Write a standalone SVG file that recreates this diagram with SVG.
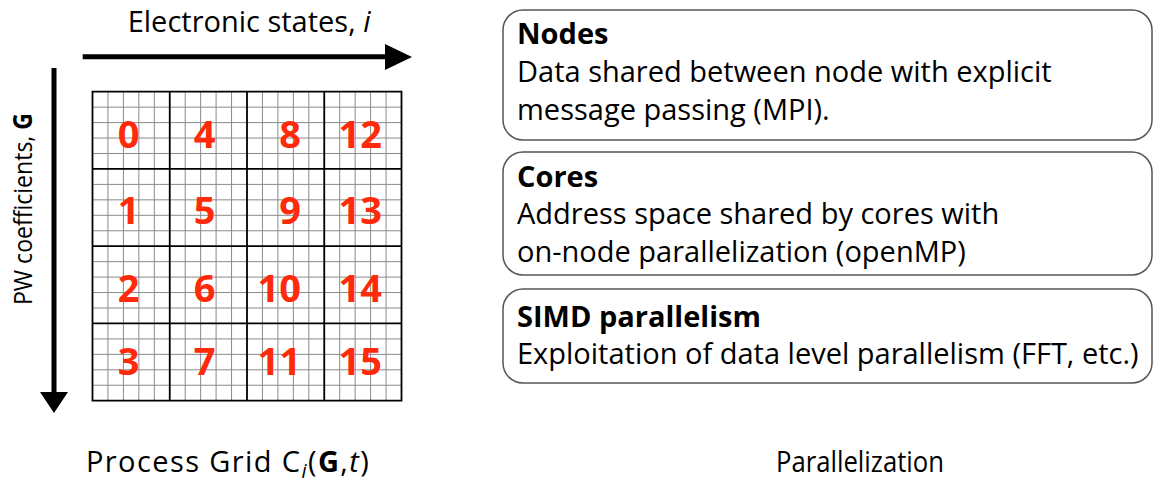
<svg xmlns="http://www.w3.org/2000/svg" width="1156" height="493" viewBox="0 0 1156 493">
<style>
  text { font-family: "Open Sans", "Liberation Sans", sans-serif; fill: #000; }
  .lbl { font-size: 29px; }
  .vlbl { font-size: 26px; }
  .hd { font-size: 29px; font-weight: bold; }
  .num { font-size: 38px; font-weight: bold; fill: #ff2a0a; text-anchor: end; }
  .minor { stroke: #8a8a8a; stroke-width: 1; fill: none; }
  .major { stroke: #000; stroke-width: 1.8; fill: none; }
  .box { fill: #fff; stroke: #555; stroke-width: 1.5; }
  .shaft { stroke: #000; stroke-width: 5; fill: none; }
</style>
<rect width="1156" height="493" fill="#fff"/>

<g id="axes">
  <line class="shaft" x1="82.7" y1="56.7" x2="387" y2="56.7"/>
  <polygon points="385,44 385,70 412,57" fill="#000"/>
  <line class="shaft" x1="54" y1="68" x2="54" y2="395"/>
  <polygon points="40,392 68,392 54,413" fill="#000"/>
  <text class="lbl" x="127.7" y="31.5">Electronic states, <tspan font-style="italic">i</tspan></text>
  <text class="vlbl" transform="translate(32,305) rotate(-90)" textLength="192" lengthAdjust="spacingAndGlyphs">PW coefficients, <tspan font-weight="bold">G</tspan></text>
</g>

<g id="process-grid">
  <path class="minor" d="M107.95 91.7V400.7M123.4 91.7V400.7M138.85 91.7V400.7M154.3 91.7V400.7M185.2 91.7V400.7M200.65 91.7V400.7M216.1 91.7V400.7M231.55 91.7V400.7M262.45 91.7V400.7M277.9 91.7V400.7M293.35 91.7V400.7M308.8 91.7V400.7M339.7 91.7V400.7M355.15 91.7V400.7M370.6 91.7V400.7M386.05 91.7V400.7
  M92.5 107.15H401.5M92.5 122.6H401.5M92.5 138.05H401.5M92.5 153.5H401.5M92.5 184.4H401.5M92.5 199.85H401.5M92.5 215.3H401.5M92.5 230.75H401.5M92.5 261.65H401.5M92.5 277.1H401.5M92.5 292.55H401.5M92.5 308H401.5M92.5 338.9H401.5M92.5 354.35H401.5M92.5 369.8H401.5M92.5 385.25H401.5"/>
  <path class="major" d="M92.5 91.7H401.5V400.7H92.5Z M169.75 91.7V400.7M247 91.7V400.7M324.25 91.7V400.7M92.5 168.95H401.5M92.5 246.2H401.5M92.5 323.45H401.5"/>
  <text class="num" x="139.5" y="148.3">0</text>
  <text class="num" x="139.5" y="224">1</text>
  <text class="num" x="139.5" y="301.5">2</text>
  <text class="num" x="139.5" y="375">3</text>
  <text class="num" x="215.5" y="148.3">4</text>
  <text class="num" x="215.5" y="224">5</text>
  <text class="num" x="215.5" y="301.5">6</text>
  <text class="num" x="215.5" y="375">7</text>
  <text class="num" x="301" y="148.3">8</text>
  <text class="num" x="301" y="224">9</text>
  <text class="num" x="301" y="301.5">10</text>
  <text class="num" x="301" y="375">11</text>
  <text class="num" x="382" y="148.3">12</text>
  <text class="num" x="382" y="224">13</text>
  <text class="num" x="382" y="301.5">14</text>
  <text class="num" x="382" y="375">15</text>
  <text class="lbl" x="86" y="472" letter-spacing="1.4">Process Grid C<tspan font-style="italic" font-size="20" dy="6">i</tspan><tspan dy="-6">(</tspan><tspan font-weight="bold">G</tspan>,<tspan font-style="italic">t</tspan>)</text>
</g>

<g id="node-nodes">
  <rect class="box" x="503" y="10" width="649" height="130" rx="20"/>
  <text class="hd" x="517" y="44">Nodes</text>
  <text class="lbl" x="517" y="82">Data shared between node with explicit</text>
  <text class="lbl" x="517" y="120">message passing (MPI).</text>
</g>

<g id="node-cores">
  <rect class="box" x="503" y="152" width="649" height="123" rx="20"/>
  <text class="hd" x="517" y="187">Cores</text>
  <text class="lbl" x="517" y="224">Address space shared by cores with</text>
  <text class="lbl" x="517" y="262">on-node parallelization (openMP)</text>
</g>

<g id="node-simd">
  <rect class="box" x="503" y="289" width="649" height="94" rx="20"/>
  <text class="hd" x="517" y="327">SIMD parallelism</text>
  <text class="lbl" x="517" y="364">Exploitation of data level parallelism (FFT, etc.)</text>
</g>

<g id="caption">
  <text class="lbl" x="776" y="472" textLength="168" lengthAdjust="spacingAndGlyphs">Parallelization</text>
</g>
</svg>
